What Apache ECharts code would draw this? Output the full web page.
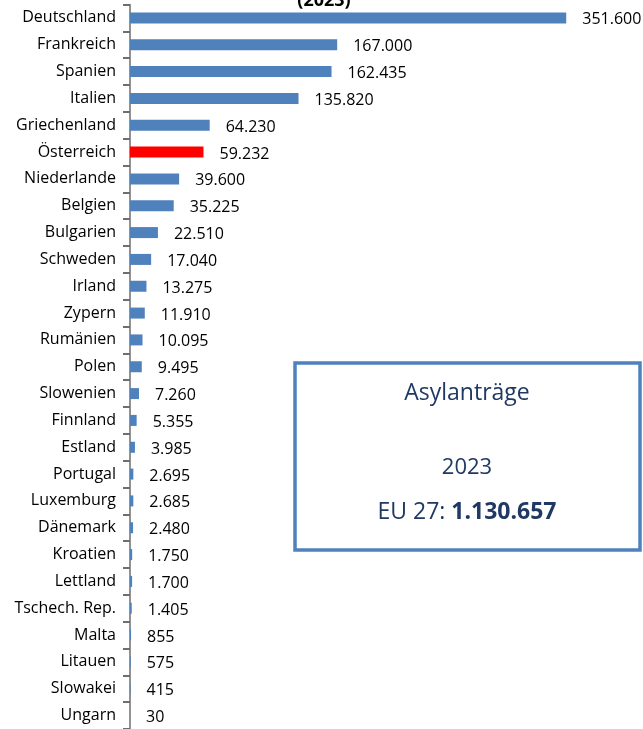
<!DOCTYPE html>
<html>
<head>
<meta charset="utf-8">
<script src="https://cdn.jsdelivr.net/npm/echarts@6/dist/echarts.min.js"></script>
<style>
  html, body { margin: 0; padding: 0; background: #fff; }
  #chart { width: 643px; height: 729px; }
</style>
</head>
<body>
<div id="chart"></div>
<script>
var countries = ['Deutschland', 'Frankreich', 'Spanien', 'Italien', 'Griechenland', 'Österreich',
    'Niederlande', 'Belgien', 'Bulgarien', 'Schweden', 'Irland', 'Zypern', 'Rumänien', 'Polen',
    'Slowenien', 'Finnland', 'Estland', 'Portugal', 'Luxemburg', 'Dänemark', 'Kroatien', 'Lettland',
    'Tschech. Rep.', 'Malta', 'Litauen', 'Slowakei', 'Ungarn'];
var applications = [351600, 167000, 162435, 135820, 64230, 59232, 39600, 35225, 22510, 17040,
    13275, 11910, 10095, 9495, 7260, 5355, 3985, 2695, 2685, 2480, 1750, 1700, 1405, 855, 575, 415, 30];
var highlight = 'Österreich';
var boxTitle = 'Asylanträge';
var boxYear = '2023';
var euLabel = 'EU 27: ';
var euTotal = '1.130.657';

var FONT = '"Open Sans", sans-serif';
var navy = '#1F3864';
var axisGrey = '#6E6E6E';

// Zahlen im deutschen Format (Punkt als Tausendertrenner)
function fmt (v) {
    return String(v).replace(/\B(?=(\d{3})+(?!\d))/g, '.');
}

var chart = echarts.init(document.getElementById('chart'));

chart.setOption({
    animation: false,
    grid: { left: 130, top: 4.5, width: 500, height: 729 },
    xAxis: {
        type: 'value',
        min: 0,
        max: 403000,
        show: false
    },
    yAxis: {
        type: 'category',
        inverse: true,
        data: countries,
        axisLine: { lineStyle: { color: axisGrey, width: 1.5 } },
        axisTick: { show: true, length: 7, lineStyle: { color: axisGrey, width: 2 } },
        axisLabel: { color: '#000', fontFamily: FONT, fontSize: 16, margin: 14 }
    },
    series: [{
        type: 'bar',
        barWidth: 11,
        data: applications.map(function (v, i) {
            return {
                value: v,
                itemStyle: { color: countries[i] === highlight ? '#FF0000' : '#4F81BD' }
            };
        }),
        label: {
            show: true,
            position: 'right',
            distance: 16,
            offset: [0, 2],
            color: '#000',
            fontFamily: FONT,
            fontSize: 16,
            formatter: function (p) { return fmt(p.value); }
        }
    }],
    graphic: [
        {
            type: 'text',
            x: 324, y: -8,
            style: { text: '(2023)', font: 'bold 18px ' + FONT, fill: '#000', align: 'center' }
        },
        {
            type: 'rect',
            shape: { x: 295, y: 363, width: 345, height: 187 },
            style: { fill: '#fff', stroke: '#4F81BD', lineWidth: 3.5 }
        },
        {
            type: 'text',
            x: 467, y: 393,
            style: { text: boxTitle, font: '23px ' + FONT, fill: navy, align: 'center', verticalAlign: 'middle' }
        },
        {
            type: 'text',
            x: 467, y: 468,
            style: { text: boxYear, font: '22px ' + FONT, fill: navy, align: 'center', verticalAlign: 'middle' }
        },
        {
            type: 'text',
            x: 467, y: 512,
            style: {
                text: '{n|' + euLabel + '}{b|' + euTotal + '}',
                align: 'center', verticalAlign: 'middle',
                rich: {
                    n: { font: '23px ' + FONT, fill: navy },
                    b: { font: 'bold 23px ' + FONT, fill: navy }
                }
            }
        }
    ]
});
</script>
</body>
</html>
